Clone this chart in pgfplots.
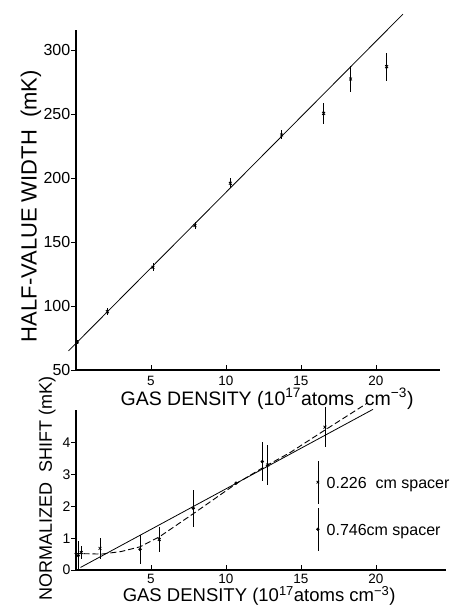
\documentclass[border=0pt]{standalone}
\usepackage{fontspec}
\setmainfont{Liberation Sans}
\usepackage{pgfplots}
\pgfplotsset{compat=1.18}
\usepackage{pgfplotstable}

% top panel: half-value width
\pgfplotstableread{
x y ey
0.10 72.0 1.5
2.09 95.6 2.6
5.13 130.2 3.0
7.93 162.8 3.0
10.29 195.8 4.0
13.71 233.6 3.5
16.51 250.5 8.0
18.31 277.3 10.0
20.71 287.0 11.0
}\topdata

% bottom panel: 0.226 cm spacer (crosses)
\pgfplotstableread{
x y ey
0.35 0.55 0.20
1.60 0.68 0.34
5.55 0.96 0.38
12.78 3.30 0.62
16.60 4.49 0.62
}\crossdata

% bottom panel: 0.746 cm spacer (dots)
\pgfplotstableread{
x y ey
0.15 0.45 0.45
4.27 0.65 0.46
7.82 1.94 0.58
10.67 2.73 0.00
12.42 3.41 0.62
}\dotdata

\begin{document}
\begin{tikzpicture}
\path[use as bounding box] (0,0) rectangle (458pt,608pt);
\pgfplotsset{
  myaxis/.style={
    scale only axis,
    axis lines=left,
    axis line style={-, line width=1.2pt},
    tick align=outside,
    major tick length=5pt,
    tick style={line width=0.9pt, black},
    x tick style={yshift=5pt},
    /pgf/number format/assume math mode=true,
    clip=false,
    xtick={5,10,15,20},
    x tick label style={inner sep=1pt, font=\fontsize{13.5}{13.5}\selectfont},
    y tick label style={inner sep=0.5pt},
  },
  ebar/.style={error bars/.cd, y dir=both, y explicit, error mark=none,
    error bar style={line width=0.8pt}},
}

% ---------- top panel ----------
\begin{axis}[myaxis,
  at={(76pt,238pt)}, anchor=south west,
  width=364pt, height=340pt,
  xmin=0, xmax=24.27, ymin=50, ymax=315.6,
  ytick={50,100,150,200,250,300},
  y tick label style={font=\fontsize{16}{16}\selectfont},
  xlabel={GAS DENSITY (10\textsuperscript{17}atoms\ \ cm\textsuperscript{−3})},
  xlabel style={at={(axis description cs:0.525,-0.085)}, anchor=center,
    font=\fontsize{19.5}{19.5}\selectfont},
  ylabel={HALF-VALUE WIDTH\ \ (mK)},
  ylabel style={at={(axis description cs:-0.124,0.482)}, anchor=center,
    font=\fontsize{22}{22}\selectfont},
]
\addplot[black, line width=0.8pt] coordinates {(-0.5,64.9) (21.8,328)};
\addplot[black, only marks, mark=x, mark size=2pt, mark options={line width=0.8pt},
  ebar] table[x=x, y=y, y error=ey] {\topdata};
\end{axis}

% ---------- bottom panel ----------
\begin{axis}[myaxis,
  at={(76pt,38pt)}, anchor=south west,
  width=370pt, height=160pt,
  xmin=0, xmax=24.67, ymin=0, ymax=5.03,
  ytick={0,1,2,3,4},
  y tick label style={font=\fontsize{14}{14}\selectfont},
  x tick label style={yshift=2pt},
  xlabel={GAS DENSITY (10\textsuperscript{17}atoms\ cm\textsuperscript{−3})},
  xlabel style={at={(axis description cs:0.495,-0.1)}, anchor=north,
    inner sep=0pt, font=\fontsize{18.5}{18.5}\selectfont},
  ylabel={NORMALIZED\ \ SHIFT (mK)},
  ylabel style={at={(axis description cs:-0.078,0.51)}, anchor=center,
    font=\fontsize{18}{18}\selectfont},
]
\addplot[black, line width=0.8pt] coordinates {(0.3,0.08) (19.8,5.05)};
\addplot[black, line width=0.9pt, dash pattern=on 6pt off 3pt] coordinates {
  (-0.1,0.52) (1.7,0.50) (3.0,0.58) (4.27,0.73) (5.55,1.04) (7.82,1.77)
  (10.7,2.72) (12.4,3.20) (14.3,3.70) (16.6,4.40) (19.4,5.24)};
\addplot[black, only marks, mark=x, mark size=2pt, mark options={line width=0.8pt},
  ebar] table[x=x, y=y, y error=ey] {\crossdata};
\addplot[black, only marks, mark=*, mark size=1.5pt, ebar]
  table[x=x, y=y, y error=ey] {\dotdata};
% key
\addplot[black, only marks, mark=x, mark size=1.8pt, mark options={line width=0.8pt},
  ebar] coordinates {(16.13,2.76) +- (0,0.67)};
\addplot[black, only marks, mark=*, mark size=1.5pt, ebar]
  coordinates {(16.13,1.28) +- (0,0.67)};
\node[anchor=base west, inner sep=0pt, font=\fontsize{16}{16}\selectfont]
  at (axis cs:16.7,2.57) {0.226\ \ cm spacer};
\node[anchor=base west, inner sep=0pt, font=\fontsize{16}{16}\selectfont]
  at (axis cs:16.7,1.10) {0.746cm spacer};
\end{axis}
\end{tikzpicture}
\end{document}
